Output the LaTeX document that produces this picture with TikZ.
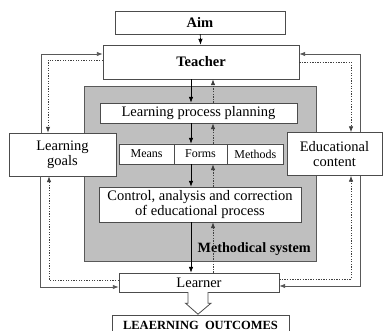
\documentclass[tikz,border=0pt]{standalone}
\usepackage{fontspec}
\setmainfont{Liberation Serif}
\usetikzlibrary{shapes,arrows.meta}

\begin{document}
\begin{tikzpicture}[x=1pt,y=-1pt,>={Latex[length=6pt,width=4.5pt]}]
\tikzstyle{box}=[rectangle,draw=black!70,fill=white,inner sep=0pt,align=center,font=\fontsize{14.5}{16}\selectfont]
\tikzstyle{trio}=[rectangle split, rectangle split horizontal,rectangle split parts=3,draw=black!70,fill=white,inner sep=0pt,minimum height=20pt,font=\fontsize{12}{14}\selectfont]
\tikzstyle{fwd}=[->,black,line width=0.7pt]
\tikzstyle{back}=[->,black!75,line width=0.8pt,dash pattern=on 1.3pt off 1.3pt]
\tikzstyle{loop}=[->,black!65,line width=0.9pt]
\clip (0,0) rectangle (383,331);
\node[box,fill=black!25,draw=black!65,line width=1pt,minimum width=232pt,minimum height=175pt](msys) at (200,174.5) {};
\node[box,minimum width=170pt,minimum height=23pt](aim) at (200,22.5) {\textbf{Aim}};
\node[box,minimum width=196pt,minimum height=34pt](teacher) at (201,62) {\textbf{Teacher}};
\node[box,minimum width=197pt,minimum height=20pt](plan) at (198.5,113) {Learning process planning};
\node[trio](mfm) at (201.5,154) {\makebox[54pt]{Means} \nodepart{two} \makebox[53pt]{Forms} \nodepart{three} \makebox[56pt]{Methods}};
\node[box,minimum width=202pt,minimum height=35pt](control) at (200,204.5) {Control, analysis and correction\\[-1pt]of educational process};
\node[inner sep=0pt,anchor=east,font=\fontsize{14.2}{16}\selectfont\bfseries](mlabel) at (311,249) {Methodical system};
\node[box,minimum width=107pt,minimum height=43pt](goals) at (62.5,154.5) {Learning\\[-1pt]goals};
\node[box,minimum width=95pt,minimum height=43pt](content) at (334.5,154) {Educational\\[-1pt]content};
\node[box,minimum width=160pt,minimum height=19pt](learner) at (199,282.5) {Learner};
\node[box,minimum width=177pt,minimum height=20pt,font=\fontsize{12.5}{14}\selectfont\bfseries](outcomes) at (200.5,325) {LEAERNING~ OUTCOMES};

% columns of the vertical chain
\coordinate (down) at (191,0);
\coordinate (up) at (213,0);
\draw[fwd] (aim) -- (teacher);
\draw[fwd] (teacher.south -| down) -- (plan.north -| down);
\draw[fwd] (plan.south -| down) -- (mfm.north -| down);
\draw[fwd] (mfm.south -| down) -- (control.north -| down);
\draw[fwd] (control.south -| down) -- (learner.north -| down);
\draw[back] (plan.north -| up) -- (teacher.south -| up);
\draw[back] (mfm.north -| up) -- (plan.south -| up);
\draw[back] (control.north -| up) -- (mfm.south -| up);
\draw[back] (learner.north -| up) -- (control.south -| up);

% outer loops
\coordinate (ls1) at (41,54);
\coordinate (ls2) at (40,287);
\coordinate (ld1) at (48,60);
\coordinate (ld2) at (49,280);
\coordinate (rs1) at (360,54);
\coordinate (rs2) at (360,286);
\coordinate (rd1) at (351,62);
\coordinate (rd2) at (351,279);
\draw[loop] (goals.north -| ls1) |- (teacher.west |- ls1);
\draw[loop] (goals.south -| ls2) |- (learner.west |- ls2);
\draw[back] (teacher.west |- ld1) -| (goals.north -| ld1);
\draw[back] (learner.west |- ld2) -| (goals.south -| ld2);
\draw[loop] (content.north -| rs1) |- (teacher.east |- rs1);
\draw[loop] (content.south -| rs2) |- (learner.east |- rs2);
\draw[back] (teacher.east |- rd1) -| (content.north -| rd1);
\draw[back] (learner.east |- rd2) -| (content.south -| rd2);

% result arrow
\draw[black!70,line width=0.8pt,fill=white] (learner.south) ++(-11,0) -- ++(0,11) -- ++(-2.5,0) -- ++(12.5,11) -- ++(13,-11) -- ++(-3,0) -- ++(0,-11);
\end{tikzpicture}
\end{document}
